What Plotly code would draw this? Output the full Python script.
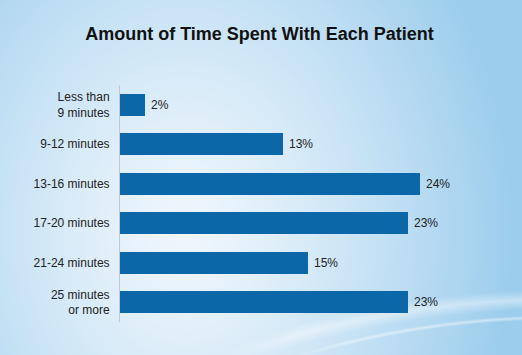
import base64, zlib, struct
import numpy as np
import plotly.graph_objects as go

categories = ["Less than<br>9 minutes", "9-12 minutes", "13-16 minutes",
              "17-20 minutes", "21-24 minutes", "25 minutes<br>or more"]
values = [2, 13, 24, 23, 15, 23]
value_labels = ["2%", "13%", "24%", "23%", "15%", "23%"]

W, H = 522, 355
ML, MR, MT, MB = 120, 2, 85, 33
PW, PH = W - ML - MR, H - MT - MB

# ---- background gradient image ----
yy, xx = np.mgrid[0:H, 0:W].astype(float)
cx, cy = 185.0, 230.0
dx = (xx - cx) / 330.0
dy = (yy - cy) / 420.0
d = np.clip(np.sqrt(dx**2 + dy**2), 0, 1)
c0 = np.array([240, 247, 253], float)
c1 = np.array([156, 205, 237], float)
t = d**1.25
img = c0[None, None, :] * (1 - t[..., None]) + c1[None, None, :] * t[..., None]
def arc(ccx, ccy, r, w, a):
    dist = np.abs(np.sqrt((xx - ccx)**2 + (yy - ccy)**2) - r)
    return np.clip(1 - dist / w, 0, 1) * a
m1 = arc(560, 1286, 987, 10, 0.42) * np.clip((xx - 220) / 80, 0, 1)
m2 = arc(560, 1230, 913, 2.5, 0.45) * np.clip((xx - 290) / 60, 0, 1)
m = np.clip(m1 + m2, 0, 0.6)
img = img * (1 - m[..., None]) + 255 * m[..., None]
img = np.clip(img, 0, 255).astype(np.uint8)

def png_bytes(arr):
    h, w, _ = arr.shape
    raw = b"".join(b"\x00" + arr[i].tobytes() for i in range(h))
    def chunk(tag, data):
        c = struct.pack(">I", len(data)) + tag + data
        return c + struct.pack(">I", zlib.crc32(tag + data) & 0xffffffff)
    return (b"\x89PNG\r\n\x1a\n" + chunk(b"IHDR", struct.pack(">IIBBBBB", w, h, 8, 2, 0, 0, 0))
            + chunk(b"IDAT", zlib.compress(raw, 9)) + chunk(b"IEND", b""))

src = "data:image/png;base64," + base64.b64encode(png_bytes(img)).decode()

FONT = "Liberation Sans, Arial, sans-serif"

fig = go.Figure()
fig.add_trace(go.Bar(
    y=categories, x=values, orientation="h",
    marker=dict(color="#0b67a7", line=dict(width=0)),
    width=0.56, hoverinfo="skip",
))
for c, v, lab in zip(categories, values, value_labels):
    fig.add_annotation(x=v, y=c, text=lab, showarrow=False, xanchor="left",
                       xshift=4, font=dict(size=12, color="#222222", family=FONT))

fig.update_layout(
    width=W, height=H,
    margin=dict(l=ML, r=MR, t=MT, b=MB, autoexpand=False),
    paper_bgcolor="#eef6fc", plot_bgcolor="rgba(0,0,0,0)",
    images=[dict(source=src, xref="paper", yref="paper",
                 x=-ML / PW, y=1 + MT / PH, sizex=W / PW, sizey=H / PH,
                 xanchor="left", yanchor="top", layer="below", sizing="stretch")],
    title=dict(text="<b>Amount of Time Spent With Each Patient</b>", x=0.497, xanchor="center",
               y=1 - 34 / H, yanchor="middle",
               font=dict(size=18, color="#111111", family=FONT)),
    font=dict(family=FONT, size=12, color="#222222"),
    showlegend=False,
    bargap=0,
)
fig.update_xaxes(range=[0, 32], visible=False, fixedrange=True)
fig.update_yaxes(autorange=False, range=[5.5, -0.5], showgrid=False, zeroline=False,
                 showline=True, linecolor="#c4c8cc", linewidth=1, ticks="",
                 ticklabelstandoff=7, tickfont=dict(size=12, color="#222222"),
                 categoryorder="array", categoryarray=categories, fixedrange=True)

fig.write_html("out.html", config={"displayModeBar": False},
               post_script="document.body.style.margin='0';document.body.style.overflow='hidden';")
